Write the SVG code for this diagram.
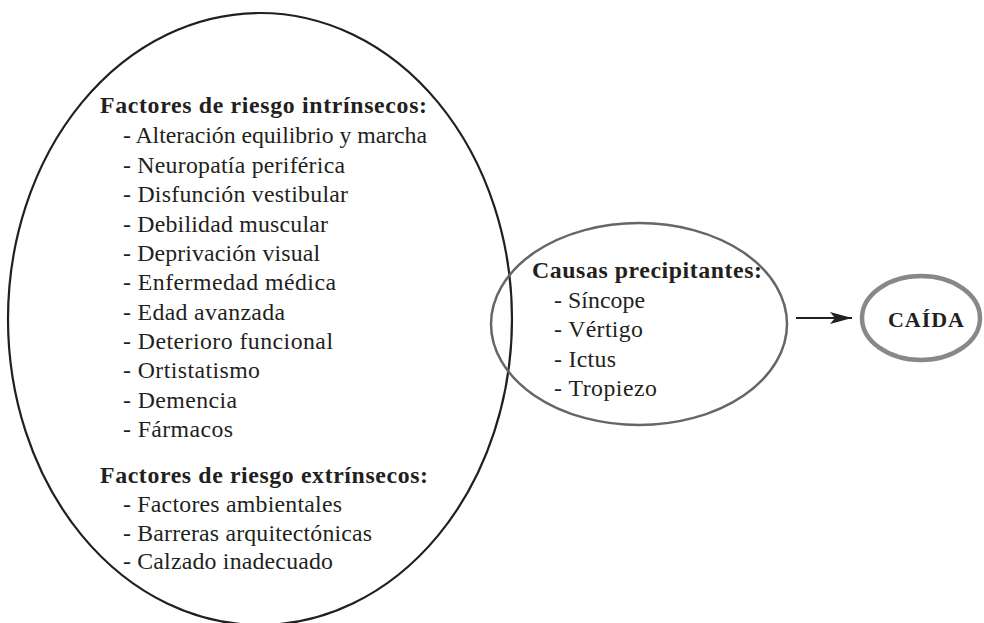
<svg xmlns="http://www.w3.org/2000/svg" width="984" height="623" viewBox="0 0 984 623">
<defs>
<style>
text{font-family:'Liberation Serif',serif;font-size:23.8px;fill:#231f20}
.h{font-weight:bold}
</style>
<marker id="ah" markerWidth="24" markerHeight="14" refX="22" refY="7" orient="auto" markerUnits="userSpaceOnUse">
<path d="M0,1 L22,7 L0,13 L5,7 Z" fill="#231f20"/>
</marker>
</defs>
<rect width="984" height="623" fill="#fff"/>
<g id="factores" font-family="Liberation Serif, serif">
<ellipse cx="260" cy="319" rx="252" ry="306" fill="none" stroke="#231f20" stroke-width="2.2"/>
<text class="h" x="100" y="113" textLength="327">Factores de riesgo intrínsecos:</text>
<text x="123" y="143" textLength="304">- Alteración equilibrio y marcha</text>
<text x="123" y="172.5" textLength="222">- Neuropatía periférica</text>
<text x="123" y="202" textLength="225">- Disfunción vestibular</text>
<text x="123" y="231.5" textLength="205">- Debilidad muscular</text>
<text x="123" y="261" textLength="197">- Deprivación visual</text>
<text x="123" y="290" textLength="213">- Enfermedad médica</text>
<text x="123" y="319.5" textLength="162">- Edad avanzada</text>
<text x="123" y="349" textLength="210">- Deterioro funcional</text>
<text x="123" y="378" textLength="137">- Ortistatismo</text>
<text x="123" y="408" textLength="114">- Demencia</text>
<text x="123" y="437" textLength="110">- Fármacos</text>
<text class="h" x="100" y="483" textLength="328">Factores de riesgo extrínsecos:</text>
<text x="123" y="512" textLength="219">- Factores ambientales</text>
<text x="123" y="540.5" textLength="249">- Barreras arquitectónicas</text>
<text x="123" y="569" textLength="210">- Calzado inadecuado</text>
</g>
<g id="causas" font-family="Liberation Serif, serif">
<ellipse cx="639" cy="324" rx="148" ry="101" fill="none" stroke="#666" stroke-width="2.5"/>
<text class="h" x="532" y="278" textLength="230">Causas precipitantes:</text>
<text x="554" y="308" textLength="91">- Síncope</text>
<text x="554" y="337" textLength="89">- Vértigo</text>
<text x="554" y="367" textLength="62">- Ictus</text>
<text x="554" y="396" textLength="103">- Tropiezo</text>
</g>
<g id="caida" font-family="Liberation Serif, serif">
<ellipse cx="921" cy="318" rx="59" ry="42" fill="none" stroke="#888" stroke-width="4.5"/>
<text class="h" x="888" y="327" textLength="76" style="font-size:22px">CAÍDA</text>
</g>
<g id="connectors">
<line x1="796" y1="318" x2="852" y2="318" stroke="#231f20" stroke-width="2.2" marker-end="url(#ah)"/>
</g>
</svg>
